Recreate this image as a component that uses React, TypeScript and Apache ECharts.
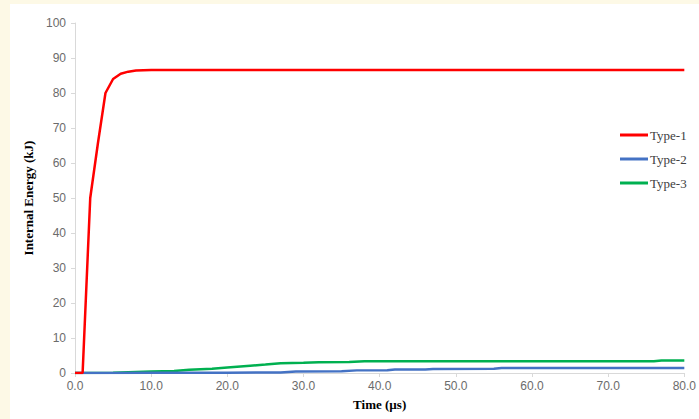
import React, { useEffect, useRef } from "react";
import * as echarts from "echarts";

const type1Points: [number, number][] = [
  [0, 0], [1, 0], [2, 50], [3, 65.5], [4, 80], [5, 84.0], [6, 85.5], [7, 86.1], [8, 86.4], [10, 86.6], [80, 86.6],
];
const type2Points: [number, number][] = [
  [0, 0], [5, 0], [10, 0.05], [20, 0.1], [27, 0.15], [29, 0.4], [35, 0.5], [37, 0.75], [41, 0.8], [42, 1.0], [46, 1.0], [47, 1.15], [55, 1.2], [56, 1.45], [80, 1.45],
];
const type3Points: [number, number][] = [
  [0, 0], [5, 0.05], [10, 0.4], [13, 0.6], [15, 0.9], [18, 1.2], [20, 1.6], [23, 2.1], [25, 2.4], [27, 2.8], [30, 2.9], [32, 3.1], [36, 3.15], [38, 3.35], [76, 3.35], [77, 3.6], [80, 3.6],
];
const seriesNames = ["Type-1", "Type-2", "Type-3"];
const seriesColors = ["#ff0000", "#4472c4", "#00b050"];

export default function App() {
  const ref = useRef<HTMLDivElement>(null);
  useEffect(() => {
    document.body.style.margin = "0";
    const chart = echarts.init(ref.current!, null, { renderer: "svg" });
    const data = [type1Points, type2Points, type3Points];
    chart.setOption({
      animation: false,
      backgroundColor: "#fdf9e6",
      graphic: [
        {
          type: "rect",
          z: -10,
          silent: true,
          shape: { x: 10, y: 4, width: 689, height: 415 },
          style: { fill: "#ffffff" },
        },
      ],
      grid: { left: 75, right: 10, top: 23, bottom: 46 },
      legend: {
        orient: "vertical",
        left: 615,
        top: 123,
        itemWidth: 28,
        itemHeight: 3,
        itemGap: 10,
        icon: "rect",
        data: seriesNames,
        textStyle: {
          fontFamily: "Liberation Serif",
          fontSize: 13,
          color: "#404040",
          padding: [0, 0, 0, -3],
          lineHeight: 14,
        },
      },
      xAxis: {
        type: "value",
        min: 0,
        max: 80,
        interval: 10,
        name: "Time (µs)",
        nameLocation: "middle",
        nameGap: 25,
        nameTextStyle: {
          fontFamily: "Liberation Serif",
          fontWeight: "bold",
          fontSize: 13,
          color: "#000",
        },
        axisLine: { show: true, lineStyle: { color: "#d9d9d9", width: 1 } },
        axisTick: { show: true, length: 4, lineStyle: { color: "#d9d9d9" } },
        splitLine: { show: false },
        axisLabel: {
          margin: 7,
          fontFamily: "Liberation Sans",
          fontSize: 12,
          color: "#6b6b6b",
          formatter: (v: number) => v.toFixed(1),
        },
      },
      yAxis: {
        type: "value",
        min: 0,
        max: 100,
        interval: 10,
        name: "Internal Energy (kJ)",
        nameLocation: "middle",
        nameGap: 34,
        nameTextStyle: {
          fontFamily: "Liberation Serif",
          fontWeight: "bold",
          fontSize: 13,
          color: "#000",
        },
        axisLine: { show: true, lineStyle: { color: "#d9d9d9", width: 1 } },
        axisTick: { show: true, length: 4, lineStyle: { color: "#d9d9d9" } },
        splitLine: { show: false },
        axisLabel: {
          margin: 9,
          fontFamily: "Liberation Sans",
          fontSize: 12,
          color: "#6b6b6b",
        },
      },
      series: data.map((d, i) => ({
        name: seriesNames[i],
        type: "line",
        data: d,
        showSymbol: false,
        symbol: "none",
        color: seriesColors[i],
        lineStyle: { width: 2.5, color: seriesColors[i] },
        z: 3 - i + 2,
      })),
    });
    return () => chart.dispose();
  }, []);
  return <div ref={ref} style={{ width: 699, height: 419 }} />;
}
